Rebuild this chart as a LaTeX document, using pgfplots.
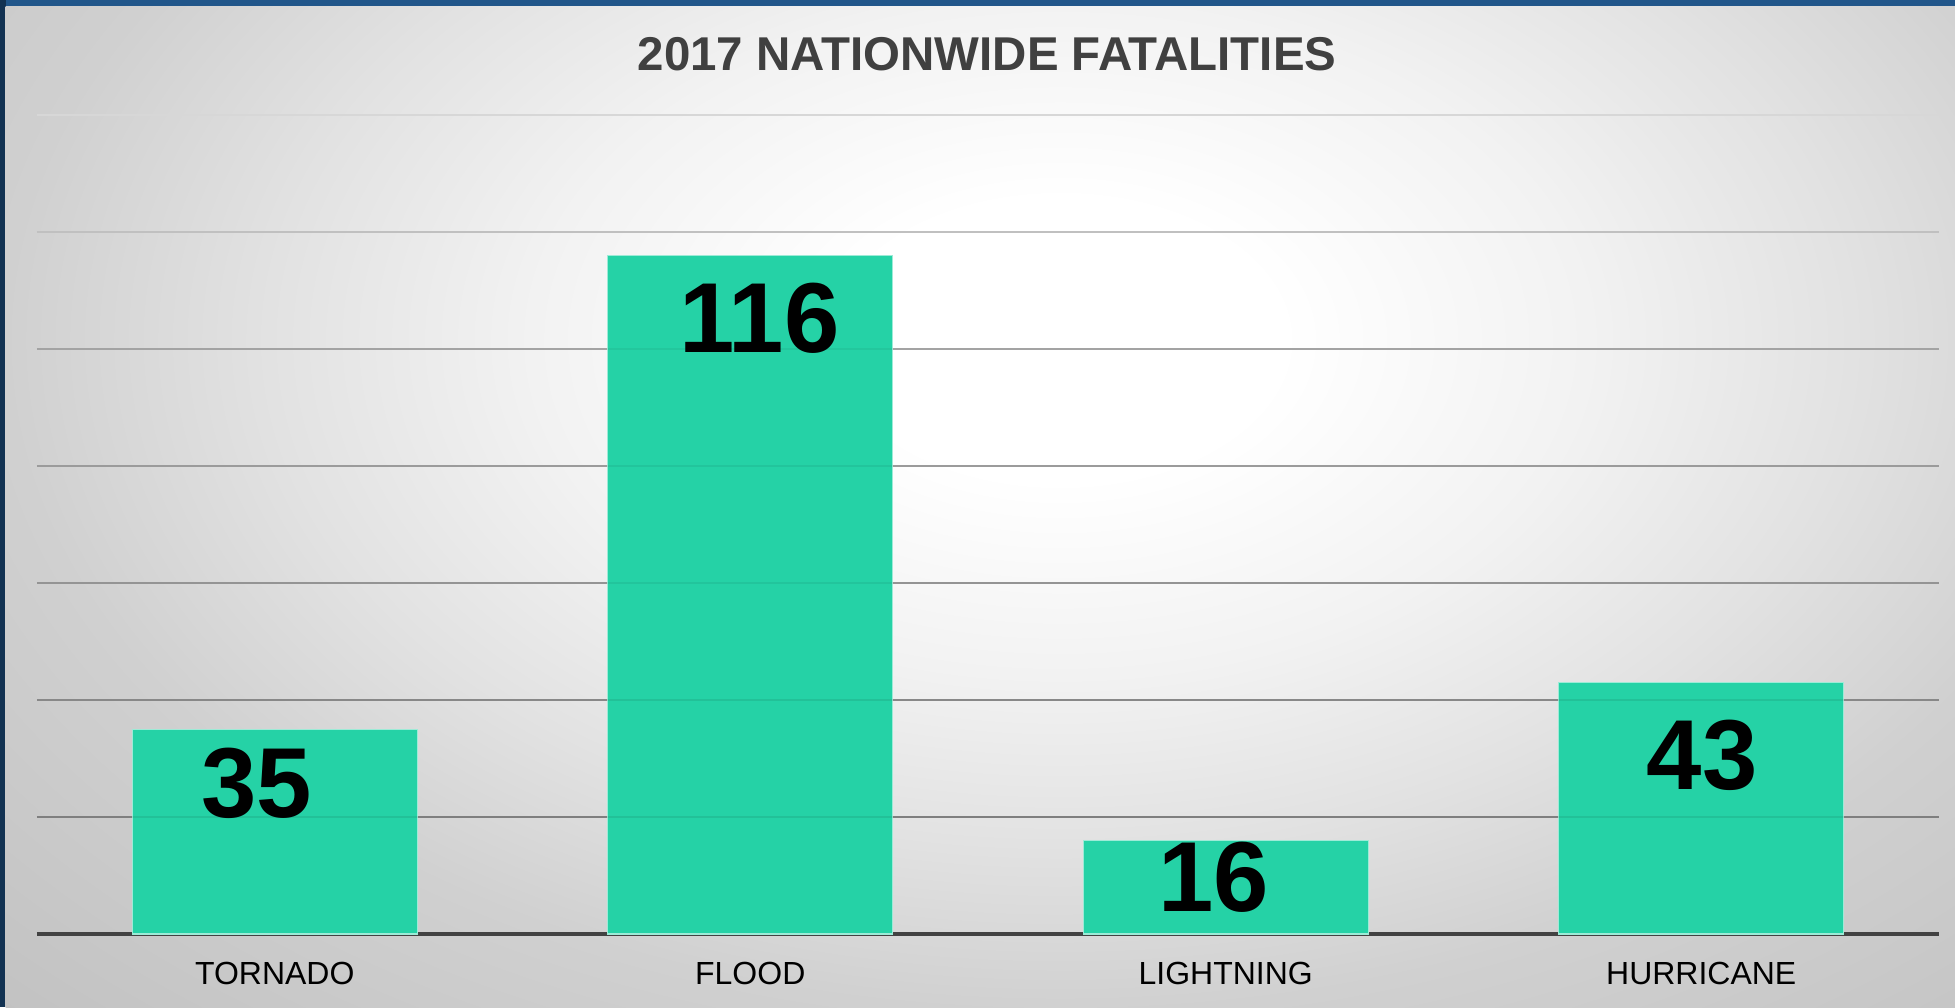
\documentclass[border=0pt]{standalone}
\usepackage{pgfplots}
\pgfplotsset{compat=1.18}
\usepackage{fontspec}
\setmainfont{Liberation Sans}
\definecolor{barcol}{RGB}{37,210,166}
\definecolor{titlecol}{RGB}{64,64,64}
\definecolor{basecol}{RGB}{66,66,66}
\definecolor{slideblue}{RGB}{33,86,138}
\definecolor{slidedark}{RGB}{18,50,82}
\definecolor{bgA}{RGB}{242,242,242}
\definecolor{bgB}{RGB}{226,226,226}
\definecolor{bgC}{RGB}{208,208,208}
\definecolor{bgD}{RGB}{194,194,194}
\definecolor{bgE}{RGB}{186,186,186}
\definecolor{gA}{RGB}{138,138,138}
\definecolor{gB}{RGB}{148,148,148}
\definecolor{gC}{RGB}{158,158,158}
\definecolor{gD}{RGB}{165,165,165}
\definecolor{gE}{RGB}{172,172,172}
\definecolor{gF}{RGB}{192,192,192}
\definecolor{gG}{RGB}{215,215,215}
\pgfdeclareradialshading{panelbg}{\pgfpoint{0bp}{0bp}}{color(0bp)=(white); color(5bp)=(white); color(12bp)=(bgA); color(18bp)=(bgB); color(24bp)=(bgC); color(34bp)=(bgD); color(50bp)=(bgE)}
\begin{document}
\begin{tikzpicture}
\fill[slideblue] (0,0) rectangle (195.5mm,100.7mm);
\fill[slidedark] (0,0) rectangle (0.6mm,100.7mm);
\begin{scope}
\clip (0.55mm,0) rectangle (195.5mm,100mm);
\shade[shading=panelbg] (-4mm,-3.3mm) rectangle (216mm,136.7mm);
\end{scope}
\node[font=\fontsize{13.5}{16}\selectfont\bfseries, text=titlecol, inner sep=0pt] at (98.7mm,95.25mm) {2017 NATIONWIDE FATALITIES};
\begin{axis}[
  at={(3.7mm,7.3mm)}, anchor=south west,
  scale only axis, width=190.2mm, height=81.9mm,
  xmin=-0.5, xmax=3.5, ymin=0, ymax=140,
  axis y line=none, axis x line=bottom,
  x axis line style={-, draw=basecol, line width=1.15pt},
  xtick={0,1,2,3},
  xticklabels={TORNADO,FLOOD,LIGHTNING,HURRICANE},
  xtick style={draw=none},
  xticklabel style={anchor=base, yshift=-4.25mm, font=\fontsize{9.1}{10}\selectfont, text=black},
  ytick=\empty,
  clip=false,
]
\draw[gA, line width=0.45pt] (axis cs:-0.5,20) -- (axis cs:3.5,20);
\draw[gB, line width=0.45pt] (axis cs:-0.5,40) -- (axis cs:3.5,40);
\draw[gC, line width=0.45pt] (axis cs:-0.5,60) -- (axis cs:3.5,60);
\draw[gD, line width=0.45pt] (axis cs:-0.5,80) -- (axis cs:3.5,80);
\draw[gE, line width=0.45pt] (axis cs:-0.5,100) -- (axis cs:3.5,100);
\draw[gF, line width=0.45pt] (axis cs:-0.5,120) -- (axis cs:3.5,120);
\draw[gG, line width=0.45pt] (axis cs:-0.5,140) -- (axis cs:3.5,140);
\addplot[ybar, bar width=0.6, fill=barcol, draw=barcol!45!white, line width=0.3pt] coordinates {(0,35) (1,116) (2,16) (3,43)};
\draw[black, opacity=0.08, line width=0.45pt] (axis cs:-0.5,20) -- (axis cs:3.5,20);
\draw[black, opacity=0.08, line width=0.45pt] (axis cs:-0.5,40) -- (axis cs:3.5,40);
\draw[black, opacity=0.06, line width=0.45pt] (axis cs:-0.5,60) -- (axis cs:3.5,60);
\draw[black, opacity=0.06, line width=0.45pt] (axis cs:-0.5,80) -- (axis cs:3.5,80);
\draw[black, opacity=0.05, line width=0.45pt] (axis cs:-0.5,100) -- (axis cs:3.5,100);
\addplot[draw=none, mark=none, nodes near coords, point meta=explicit symbolic,
  nodes near coords style={anchor=center, font=\fontsize{28.3}{29}\selectfont\bfseries, text=black}]
  table[meta=label] {
x y label
-0.038 25.8 35
1.019 105.2 116
1.975 9.7 16
3.002 30.5 43
};
\end{axis}
\pgfresetboundingbox
\path (0,0) rectangle (195.5mm,100.7mm);
\end{tikzpicture}
\end{document}
